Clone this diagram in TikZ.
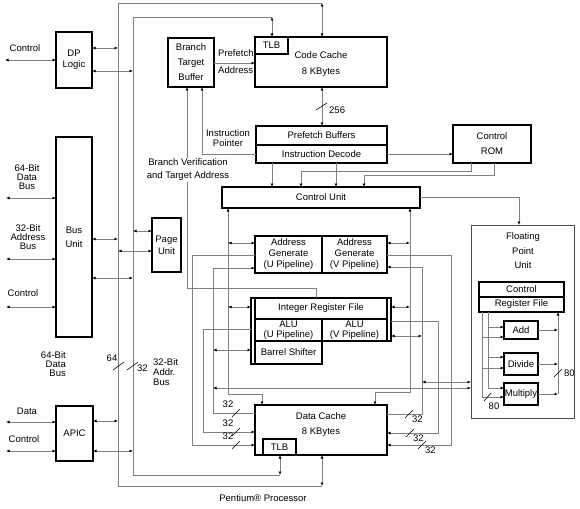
\documentclass[tikz,border=0pt]{standalone}
\usepackage{fontspec}
\setmainfont{Liberation Sans}
\usetikzlibrary{positioning,arrows.meta}
\definecolor{wiregray}{RGB}{128,128,128}
\def\labfont{\fontsize{9.5}{11}\selectfont}
\def\tightfont{\fontsize{9.5}{9}\selectfont}
\tikzset{
  unit/.style={draw,line width=1.1pt,fill=white,inner sep=0pt,outer sep=0pt,font=\labfont,align=center},
  wire/.style={draw=wiregray,line width=0.9pt},
  >={Latex[length=3.5pt,width=3pt,color=black]},
  arr/.style={wire,->},
  barr/.style={wire,<->},
  txt/.style={font=\labfont,inner sep=0pt,align=center},
  cut/.style={draw=black,line width=0.6pt},
}

\begin{document}
\begin{tikzpicture}[x=1pt,y=-1pt]
  \useasboundingbox (0,0) rectangle (580,508);
  % left side units
  \node[unit,anchor=north west,minimum width=36,minimum height=56] (dplogic) at (56,32) {DP\\Logic};
  \node[unit,anchor=north west,minimum width=36,minimum height=200] (busunit) at (56,137) {Bus\\[3pt]Unit};
  \node[unit,anchor=north west,minimum width=37,minimum height=55] (apic) at (56,406) {APIC};
  \node[unit,anchor=north west,minimum width=29,minimum height=54] (pageunit) at (152,218) {Page\\[1pt]Unit};
  % front end
  \node[unit,anchor=north west,minimum width=46,minimum height=49] (btb) at (168,38) {Branch\\[4pt]Target\\[4pt]Buffer};
  \node[unit,anchor=north west,minimum width=132,minimum height=50] (codecache) at (255,37) {};
  \node[unit,anchor=north west,minimum width=33,minimum height=17] (cctlb) at (codecache.north west) {TLB};
  \node[txt] (cctext) at (321,64) {Code Cache\\[5pt]8 KBytes};
  \node[unit,anchor=north west,minimum width=131,minimum height=19] (pfbuf) at (256,126) {Prefetch Buffers};
  \node[unit,minimum width=131,minimum height=18] (idecode) [below=0pt of pfbuf] {Instruction Decode};
  \node[unit,anchor=north west,minimum width=78,minimum height=38] (ctlrom) at (453,125) {Control\\[4pt]ROM};
  \node[unit,anchor=north west,minimum width=198,minimum height=21] (ctlunit) at (222,187) {Control Unit};
  % execution
  \node[unit,anchor=north west,minimum width=67,minimum height=37] (agenu) at (255,236) {Address\\Generate\\(U Pipeline)};
  \node[unit,minimum width=65,minimum height=37] (agenv) [right=0pt of agenu] {Address\\Generate\\(V Pipeline)};
  \node[unit,anchor=north west,minimum width=132,minimum height=21] (intreg) at (255,298) {Integer Register File};
  \node[unit,anchor=north west,minimum width=67,minimum height=22] (aluu) at (intreg.south west) {ALU\\[-1pt](U Pipeline)};
  \node[unit,minimum width=65,minimum height=22] (aluv) [right=0pt of aluu] {ALU\\[-1pt](V Pipeline)};
  \node[unit,anchor=north west,minimum width=67,minimum height=23] (barrel) at (aluu.south west) {Barrel Shifter};
  \node[unit,anchor=north east,minimum width=4,minimum height=66] (irfleft) at (intreg.north west) {};
  \node[unit,anchor=north west,minimum width=4,minimum height=43] (irfright) at (intreg.north east) {};
  \node[unit,anchor=north west,minimum width=132,minimum height=50] (datacache) at (255,405) {};
  \node[txt] (dctext) at (321,425) {Data Cache\\[4pt]8 KBytes};
  \node[unit,anchor=north west,minimum width=33,minimum height=16] (dctlb) at (263,439) {TLB};
  % floating point
  \node[unit,draw=black!70,line width=0.9pt,anchor=north west,minimum width=103,minimum height=193] (fpu) at (471,225) {};
  \node[txt] (fputext) at (523,251) {Floating\\[3.5pt]Point\\[3.5pt]Unit};
  \node[unit,anchor=north west,minimum width=85,minimum height=15] (fpctl) at (479,282) {Control};
  \node[unit,minimum width=85,minimum height=15] (fpreg) [below=0pt of fpctl] {Register File};
  \node[unit,anchor=north west,minimum width=34,minimum height=18] (fadd) at (504,321) {Add};
  \node[unit,anchor=north west,minimum width=34,minimum height=22] (fdiv) at (504,353) {Divide};
  \node[unit,anchor=north west,minimum width=34,minimum height=22] (fmul) at (504,383) {Multiply};

  % processor bus rails
  \coordinate (otl) at (118,3);  \coordinate (otr) at (322,3);
  \coordinate (obl) at (118,486); \coordinate (obr) at (322,486);
  \coordinate (itl) at (133,17); \coordinate (itr) at (272,17);
  \coordinate (ibl) at (133,475); \coordinate (ibr) at (280,475);
  \draw[wire] (otr) -- (otl) -- (obl) -- (obr);
  \draw[wire] (itr) -- (itl) -- (ibl) -- (ibr);
  \draw[barr] (otr) -- (otr |- codecache.north);
  \draw[barr] (itr) -- (itr |- cctlb.north);
  \draw[barr] (obr) -- (obr |- datacache.south);
  \draw[barr] (ibr) -- (ibr |- dctlb.south);

  % external pins
  \draw[barr] (dplogic.west) -- ++(-51,0);
  \foreach \y in {198,259,307} \draw[barr] (busunit.west |- 0,\y) -- ++(-50,0);
  \foreach \y in {422,451} \draw[barr] (apic.west |- 0,\y) -- ++(-50,0);
  \node[txt] (pinctl) at (25,48) {Control};
  \node[txt,font=\tightfont] (pindata) at (27,177) {64-Bit\\Data\\Bus};
  \node[txt,font=\tightfont] (pinaddr) at (28,237) {32-Bit\\Address\\Bus};
  \node[txt] (pinbusctl) at (23,293) {Control};
  \node[txt] (pinapicdata) at (27,411) {Data};
  \node[txt] (pinapicctl) at (24,439) {Control};

  % units to rails
  \draw[barr] (dplogic.east |- 0,48) -- (otl |- 0,48);
  \draw[barr] (dplogic.east |- 0,71) -- (itl |- 0,71);
  \draw[barr] (busunit.east |- 0,239) -- (otl |- 0,239);
  \draw[barr] (busunit.east |- 0,278) -- (itl |- 0,278);
  \draw[barr] (apic.east |- 0,421) -- (otl |- 0,421);
  \draw[barr] (apic.east |- 0,451) -- (itl |- 0,451);
  \draw[barr] (itl |- 0,231) -- (pageunit.west |- 0,231);
  \draw[barr] (otl |- 0,251) -- (pageunit.west |- 0,251);
  \draw[cut] (113,370) -- (124,362);
  \draw[cut] (127,370) -- (138,362);
  \node[txt] (w64) at (112,358) {64};
  \node[txt,anchor=west] (w32) at (137,368) {32};
  \node[txt,font=\tightfont,anchor=east,align=right] (raildata) at (66,364) {64-Bit\\Data\\Bus};
  \node[txt,font=\fontsize{9.5}{10}\selectfont,anchor=west,align=left] (railaddr) at (153,372) {32-Bit\\Addr.\\Bus};

  % fetch and decode
  \draw[arr] (btb.east |- 0,63) -- (codecache.west |- 0,63);
  \node[txt,anchor=west] (pflabel) at (218,53) {Prefetch};
  \node[txt,anchor=west] (adlabel) at (218,70) {Address};
  \draw[barr] (codecache.south -| 322,0) -- (pfbuf.north -| 322,0);
  \draw[cut] (316,110) -- (327,103);
  \node[txt,anchor=west] (w256) at (329,110) {256};
  \draw[arr] (idecode.west) -| (btb.south -| 202,0);
  \node[txt] (iplabel) at (228,138) {Instruction\\[-1pt]Pointer};
  \draw[arr] (intreg.north -| 316,0) -- ++(0,-10) -| (btb.south -| 187,0);
  \node[txt,fill=white,inner sep=1pt] (bvlabel) at (188,170) {Branch Verification\\[2pt]and Target Address};
  \draw[arr] (idecode.east) -- (idecode.east -| ctlrom.west);
  \draw[arr] (idecode.south -| 272,0) -- (ctlunit.north -| 272,0);
  \draw[arr] (idecode.south -| 336,0) -- (ctlunit.north -| 336,0);
  \draw[arr] (ctlrom.south -| 471,0) -- ++(0,8) -| (ctlunit.north -| 301,0);
  \draw[arr] (ctlrom.south -| 494,0) -- ++(0,12) -| (ctlunit.north -| 364,0);
  \draw[arr] (ctlunit.east) -| (fpu.north -| 519,0);

  % control unit to pipelines and data cache
  \draw[barr] (ctlunit.south -| 228,0) -- ++(0,186) -| (datacache.north -| 262,0);
  \draw[barr] (ctlunit.south -| 410,0) -- ++(0,184) -| (datacache.north -| 375,0);
  \draw[barr] (228,243) -- (agenu.west |- 0,243);
  \draw[barr] (228,307) -- (irfleft.west |- 0,307);
  \draw[barr] (agenv.east |- 0,243) -- (410,243);
  \draw[barr] (irfright.east |- 0,307) -- (410,307);
  \draw[barr] (213,350) -- (irfleft.west |- 0,350);
  \draw[barr] (irfright.east |- 0,336) -- (422,336);

  % data buses
  \draw[arr] (agenu.west |- 0,255) -| (192,445) -- (datacache.west |- 0,445);
  \draw[arr] (agenv.east |- 0,255) -| (451,445) -- (datacache.east |- 0,445);
  \draw[arr] (datacache.west |- 0,413) -| (213,268) -- (agenu.west |- 0,268);
  \draw[arr] (datacache.east |- 0,414) -| (422,267) -- (agenv.east |- 0,267);
  \draw[arr] (irfleft.west |- 0,329) -| (203,432) -- (datacache.west |- 0,432);
  \draw[arr] (irfright.east |- 0,321) -| (438,433) -- (datacache.east |- 0,433);
  \draw[barr] (422,382) -- (fpu.west |- 0,382);
  \draw[barr] (213,388) -- (fpu.west |- 0,388);
  \foreach \y/\ly in {413/404,432/423,445/436} {
    \draw[cut] (232,\y+4) -- (240,\y-4);
    \node[txt] (wl\y) at (228,\ly) {32};
  }
  \foreach \y/\x in {414/409,433/410,445/422} {
    \draw[cut] (\x-4,\y+4) -- (\x+4,\y-4);
    \node[txt,anchor=west] (wr\y) at (\x+3,\y+5) {32};
  }

  % floating point internals
  \draw[wire] (fpreg.south -| 482,0) -- (482,397);
  \draw[wire] (fpreg.south -| 488,0) -- (488,388);
  \draw[arr] (488,327) -- (fadd.west |- 0,327);
  \draw[arr] (482,337) -- (fadd.west |- 0,337);
  \draw[arr] (488,357) -- (fdiv.west |- 0,357);
  \draw[arr] (482,368) -- (fdiv.west |- 0,368);
  \draw[arr] (488,388) -- (fmul.west |- 0,388);
  \draw[arr] (482,397) -- (fmul.west |- 0,397);
  \foreach \u in {fadd,fdiv,fmul} \draw[arr] (\u.east) -- (\u.east -| 558,0);
  \draw[arr] (fmul.east -| 558,0) -- (fpreg.south -| 558,0);
  \draw[cut] (484,401) -- (491,393);
  \node[txt] (w80a) at (494,406) {80};
  \draw[cut] (554,377) -- (562,369);
  \node[txt,anchor=west] (w80b) at (564,373) {80};

  \node[txt] (chip) at (263,498) {Pentium® Processor};
\end{tikzpicture}
\end{document}
